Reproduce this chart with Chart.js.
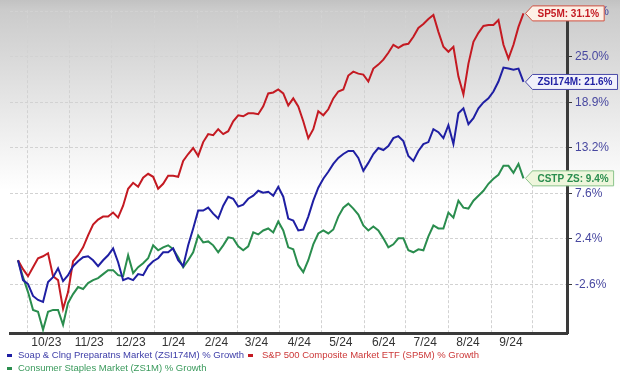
<!DOCTYPE html>
<html>
<head>
<meta charset="utf-8">
<title>Soap & Cleaning Preparations vs S&P 500 vs Consumer Staples</title>
<script src="https://cdn.jsdelivr.net/npm/chart.js@4.4.1/dist/chart.umd.min.js"></script>
<style>
  html, body { margin: 0; padding: 0; background: #fff; }
  canvas { display: block; }
</style>
</head>
<body>
<canvas id="growthChart" width="620" height="379"></canvas>
<script>
// readings taken every ~3.6 days, starting one week before 1 Oct 2023 (% growth)
const firstDay = -6.5;      // days relative to 1 Oct 2023
const sampleStep = 3.62;

const soapGrowth = [
    0, -2.16, -2.58, -3.84, -4.26, -4.47, -2.37, -1.84, -0.87, -2.26,
    -1.62, -0.65, -0.11, 0.33, 0.44, 0, -0.65, 0, 0.55, 1.32,
    -0.22, -2.16, -1.94, -2.16, -1.51, -1.62, -0.65, -0.11, 0.22, 0.88,
    0.88, 1.32, 0, -0.65, 1.65, 3.55, 5.6, 5.6, 5.94, 5.25,
    4.68, 6.17, 7.22, 6.98, 6.06, 6.29, 6.98, 7.34, 7.92, 7.68,
    7.8, 7.34, 8.39, 7.22, 4.68, 4.45, 3.32, 3.43, 4.91, 6.75,
    8.28, 9.35, 10.19, 11.15, 11.88, 12.36, 12.73, 12.73, 11.88, 10.31,
    11.27, 12.36, 13.1, 12.85, 13.35, 14.33, 14.58, 13.96, 12.12, 11.51,
    12.73, 13.59, 13.84, 15.46, 15.08, 14.33, 15.96, 13.59, 17.49, 18.14,
    16.09, 16.86, 18.14, 18.91, 19.43, 20.34, 21.66, 23.53, 23.4, 23.26,
    23.4, 21.6
];
const sp500Growth = [
    0, -0.97, -1.73, -0.76, 0.22, 0.44, 0.77, -1.73, -2.16, -5.2,
    -3.43, -0.11, 0.55, 1.43, 2.76, 4.0, 4.56, 4.91, 4.91, 5.37,
    4.79, 6.17, 8.16, 8.87, 8.39, 9.47, 9.95, 9.59, 8.16, 8.75,
    9.71, 9.71, 9.59, 11.51, 12.36, 13.1, 12.12, 13.84, 14.84, 14.71,
    15.46, 14.84, 15.21, 16.47, 17.24, 17.11, 17.49, 17.49, 17.37, 18.39,
    20.08, 20.21, 20.6, 20.08, 18.52, 19.43, 18.39, 16.47, 14.33, 15.46,
    17.75, 17.24, 18.01, 19.43, 20.34, 20.6, 22.46, 22.99, 22.72, 22.59,
    21.66, 23.4, 23.94, 24.61, 25.56, 26.66, 26.25, 26.66, 26.8, 27.78,
    29.03, 29.59, 30.3, 30.87, 28.47, 26.39, 25.7, 26.39, 22.32, 19.95,
    24.07, 27.08, 28.33, 29.31, 29.45, 29.45, 30.16, 26.66, 24.75, 26.66,
    29.17, 31.1
];
const staplesGrowth = [
    0, -1.84, -3.43, -5.3, -5.5, -7.34, -5.5, -5.3, -5.3, -6.83,
    -4.57, -3.64, -2.9, -3.11, -2.47, -2.16, -1.94, -1.51, -1.08, -1.08,
    -1.62, -1.73, 0.55, -1.4, -0.76, -0.33, 0.22, 1.65, 1.1, 1.43,
    1.65, 1.21, 0.33, -0.76, 0, 0.88, 2.76, 1.98, 2.09, 1.65,
    0.88, 1.65, 2.54, 2.43, 1.54, 1.1, 1.54, 3.1, 2.87, 3.32,
    3.55, 3.1, 4.34, 3.32, 1.43, 1.21, -0.54, -1.3, 0, 1.76,
    2.98, 3.32, 2.98, 3.43, 4.91, 5.94, 6.41, 5.83, 5.14, 3.89,
    3.32, 3.77, 3.32, 2.43, 1.43, 1.76, 2.43, 2.43, 1.1, 0.88,
    1.21, 1.1, 2.65, 3.89, 3.55, 3.55, 5.37, 4.79, 6.75, 5.94,
    5.83, 6.75, 7.34, 7.92, 8.75, 9.35, 9.83, 10.91, 10.91, 10.07,
    11.15, 9.4
];

const monthStarts = [0, 31, 61, 92, 123, 152, 183, 213, 244, 274, 305, 336, 366];
const monthMids = [14, 45, 75, 106, 137, 166, 197, 227, 258, 288, 319, 350];
const monthLabels = ['10/23', '11/23', '12/23', '1/24', '2/24', '3/24', '4/24', '5/24', '6/24', '7/24', '8/24', '9/24'];
const yTicks = [-2.6, 2.4, 7.6, 13.2, 18.9, 25.0, 31.4];

const seriesNames = [
    'Soap & Clng Preparatns Market (ZSI174M) % Growth',
    'S&P 500 Composite Market ETF (SP5M) % Growth',
    'Consumer Staples Market (ZS1M) % Growth'
];
const flagLabels = ['ZSI174M: 21.6%', 'SP5M: 31.1%', 'CSTP ZS: 9.4%'];

const lineColors = ['#1f1fa3', '#c41a22', '#2a8d4e'];
const legendTextColors = ['#3d3da8', '#cc3838', '#3a9a5c'];
const flagFills = ['#f1f1fa', '#fdf0e6', '#eef6dc'];
const flagBorders = ['#4a4aa8', '#d05040', '#8cc48c'];

const FONT = '"Liberation Sans", Arial, sans-serif';

// index values so the log scale spaces the growth like the source chart
function toPoints(values) {
    return values.map((v, i) => ({ x: firstDay + i * sampleStep, y: 100 + v }));
}

const backgroundPlugin = {
    id: 'bgGradient',
    beforeDraw(chart) {
        const { ctx, width, height } = chart;
        ctx.save();
        ctx.fillStyle = '#ffffff';
        ctx.fillRect(0, 0, width, height);
        const g = ctx.createLinearGradient(0, 0, 0, 190);
        g.addColorStop(0, '#c2c2c2');
        g.addColorStop(0.05, '#cbcbcb');
        g.addColorStop(1, '#ffffff');
        ctx.fillStyle = g;
        ctx.fillRect(0, 0, width, 190);
        ctx.restore();
    }
};

const flagPlugin = {
    id: 'endFlags',
    afterDatasetsDraw(chart) {
        const ctx = chart.ctx;
        chart.data.datasets.forEach((ds, i) => {
            const meta = chart.getDatasetMeta(i);
            const last = meta.data[meta.data.length - 1];
            const tipX = last.x + 2;
            const tipY = last.y;
            ctx.save();
            ctx.font = 'bold 10px ' + FONT;
            const w = ctx.measureText(flagLabels[i]).width + 10;
            const h = 15;
            const arrow = 7;
            ctx.beginPath();
            ctx.moveTo(tipX, tipY);
            ctx.lineTo(tipX + arrow, tipY - h / 2);
            ctx.lineTo(tipX + arrow + w, tipY - h / 2);
            ctx.lineTo(tipX + arrow + w, tipY + h / 2);
            ctx.lineTo(tipX + arrow, tipY + h / 2);
            ctx.closePath();
            ctx.fillStyle = flagFills[i];
            ctx.fill();
            ctx.lineWidth = 1;
            ctx.strokeStyle = flagBorders[i];
            ctx.stroke();
            ctx.fillStyle = lineColors[i];
            ctx.textBaseline = 'middle';
            ctx.fillText(flagLabels[i], tipX + arrow + 5, tipY + 0.5);
            ctx.restore();
        });
    }
};

const legendPlugin = {
    id: 'bottomLegend',
    afterDraw(chart) {
        const ctx = chart.ctx;
        const rows = [
            { y: 355, items: [{ i: 0, dash: 7, text: 18 }, { i: 1, dash: 248, text: 262 }] },
            { y: 368, items: [{ i: 2, dash: 7, text: 18 }] }
        ];
        ctx.save();
        ctx.font = '9.5px ' + FONT;
        ctx.textBaseline = 'middle';
        rows.forEach(row => {
            row.items.forEach(item => {
                ctx.fillStyle = lineColors[item.i];
                ctx.fillRect(item.dash, row.y - 1, 5, 3);
                ctx.fillStyle = legendTextColors[item.i];
                ctx.fillText(seriesNames[item.i], item.text, row.y + 0.5);
            });
        });
        ctx.restore();
    }
};

const series = [soapGrowth, sp500Growth, staplesGrowth];

new Chart(document.getElementById('growthChart'), {
    type: 'line',
    data: {
        datasets: series.map((values, i) => ({
            label: seriesNames[i],
            data: toPoints(values),
            borderColor: lineColors[i],
            borderWidth: 2,
            pointRadius: 0,
            tension: 0,
            fill: false
        }))
    },
    options: {
        responsive: false,
        animation: false,
        devicePixelRatio: 1,
        layout: { padding: { left: 10, top: 8, right: 0, bottom: 32 } },
        plugins: {
            legend: { display: false },
            tooltip: { enabled: false }
        },
        scales: {
            x: {
                type: 'linear',
                position: 'bottom',
                min: -12.3,
                max: 390.6,
                afterBuildTicks: scale => {
                    scale.ticks = monthStarts.concat(monthMids).map(v => ({ value: v }));
                },
                afterFit: scale => { scale.height = 14; },
                grid: {
                    drawTicks: false,
                    color: ctx => (ctx.tick && monthStarts.includes(ctx.tick.value)) ? '#d2d2d2' : 'rgba(0,0,0,0)',
                    lineWidth: 1
                },
                border: { display: true, color: '#3a3a3a', width: 3, dash: [3, 2] },
                ticks: {
                    autoSkip: false,
                    maxRotation: 0,
                    padding: 2,
                    color: '#333',
                    font: { family: FONT, size: 12 },
                    callback: value => {
                        const k = monthMids.indexOf(value);
                        return k >= 0 ? monthLabels[k] : '';
                    }
                }
            },
            y: {
                type: 'logarithmic',
                position: 'right',
                min: 92.33,
                max: 131.56,
                afterBuildTicks: scale => {
                    scale.ticks = yTicks.map(v => ({ value: 100 + v }));
                },
                afterFit: scale => { scale.width = 53; },
                grid: {
                    color: '#d2d2d2',
                    lineWidth: 1,
                    drawTicks: true,
                    tickLength: 5,
                    tickColor: '#3a3a3a'
                },
                border: { display: true, color: '#3a3a3a', width: 3, dash: [3, 2] },
                ticks: {
                    padding: 3,
                    color: '#4848a0',
                    font: { family: FONT, size: 12 },
                    callback: (value, index) => yTicks[index].toFixed(1) + '%'
                }
            }
        }
    },
    plugins: [backgroundPlugin, flagPlugin, legendPlugin]
});
</script>
</body>
</html>
